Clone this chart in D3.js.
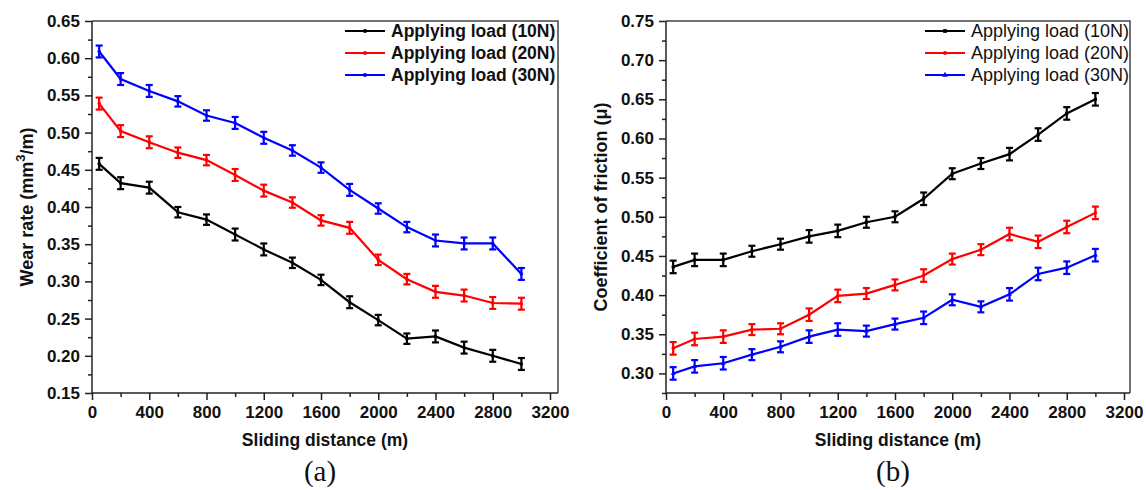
<!DOCTYPE html>
<html>
<head>
<meta charset="utf-8">
<script src="https://cdn.jsdelivr.net/npm/d3@7"></script>
<style>
  body { margin: 0; background: #fff; }
  svg { display: block; font-family: "Liberation Sans", Arial, sans-serif; }
  .tick text { font-weight: bold; font-size: 17px; fill: #111; }
</style>
</head>
<body>
<div id="chart"></div>
<script>
// Sliding distances (m)
const distance = [50, 200, 400, 600, 800, 1000, 1200, 1400, 1600, 1800, 2000, 2200, 2400, 2600, 2800, 3000];
const loads = ["Applying load (10N)", "Applying load (20N)", "Applying load (30N)"];
const colors = ["#000000", "#ff0000", "#0000ff"];

// (a) wear rate (mm3/m)
const wear10 = [0.458, 0.432, 0.426, 0.393, 0.383, 0.363, 0.343, 0.325, 0.302, 0.272, 0.248, 0.223, 0.226, 0.211, 0.200, 0.189];
const wear20 = [0.539, 0.502, 0.487, 0.473, 0.463, 0.443, 0.422, 0.406, 0.382, 0.372, 0.329, 0.303, 0.286, 0.281, 0.271, 0.270];
const wear30 = [0.609, 0.572, 0.556, 0.542, 0.523, 0.513, 0.493, 0.476, 0.453, 0.423, 0.398, 0.373, 0.355, 0.351, 0.351, 0.310];
const wearErr = [0.008, 0.008, 0.008, 0.007, 0.007, 0.008, 0.008, 0.007, 0.007, 0.008, 0.007, 0.007, 0.008, 0.008, 0.008, 0.008];

// (b) coefficient of friction
const cof10 = [0.436, 0.445, 0.445, 0.456, 0.465, 0.475, 0.482, 0.493, 0.500, 0.523, 0.555, 0.568, 0.580, 0.605, 0.632, 0.650];
const cof20 = [0.332, 0.344, 0.347, 0.356, 0.357, 0.375, 0.399, 0.402, 0.413, 0.425, 0.446, 0.458, 0.478, 0.468, 0.487, 0.505];
const cof30 = [0.300, 0.309, 0.313, 0.324, 0.334, 0.347, 0.356, 0.354, 0.363, 0.371, 0.394, 0.385, 0.401, 0.427, 0.435, 0.451];
const cofErr = [0.008, 0.008, 0.008, 0.007, 0.007, 0.008, 0.008, 0.007, 0.007, 0.008, 0.007, 0.007, 0.008, 0.008, 0.008, 0.008];

const xTicks = [0, 400, 800, 1200, 1600, 2000, 2400, 2800, 3200];
const xMinor = [200, 600, 1000, 1400, 1800, 2200, 2600, 3000];
const wearTicks = [0.15, 0.20, 0.25, 0.30, 0.35, 0.40, 0.45, 0.50, 0.55, 0.60, 0.65];
const wearMinor = [0.175, 0.225, 0.275, 0.325, 0.375, 0.425, 0.475, 0.525, 0.575, 0.625];
const cofTicks = [0.30, 0.35, 0.40, 0.45, 0.50, 0.55, 0.60, 0.65, 0.70, 0.75];
const cofMinor = [0.275, 0.325, 0.375, 0.425, 0.475, 0.525, 0.575, 0.625, 0.675, 0.725];

const width = 1146, height = 490;
const svg = d3.select("#chart").append("svg")
  .attr("width", width).attr("height", height);

function drawPanel(p) {
  const top = 21, bottom = 393;
  const x = d3.scaleLinear().domain([0, 3200]).range([p.left, p.left + 458]);
  const y = d3.scaleLinear().domain(p.yDomain).range([bottom, top]);
  const g = svg.append("g");

  // frame (top + right)
  g.append("path")
    .attr("d", `M${p.left},${top}H${p.frameRight}V${bottom}`)
    .attr("fill", "none").attr("stroke", "#444").attr("stroke-width", 1.5);

  // axes
  g.append("g").attr("transform", `translate(0,${bottom})`)
    .call(d3.axisBottom(x).tickValues(xMinor).tickSize(4).tickFormat("").tickSizeOuter(0))
    .call(a => a.select(".domain").remove())
    .selectAll("line").attr("stroke", "#222").attr("stroke-width", 1.5);
  const xa = g.append("g").attr("transform", `translate(0,${bottom})`)
    .call(d3.axisBottom(x).tickValues(xTicks).tickSize(7).tickPadding(6).tickFormat(d3.format("d")).tickSizeOuter(0));
  xa.select(".domain").attr("d", `M${p.left},0H${p.frameRight}`).attr("stroke", "#222").attr("stroke-width", 1.5);
  xa.selectAll("line").attr("stroke", "#222").attr("stroke-width", 1.5);

  g.append("g").attr("transform", `translate(${p.left},0)`)
    .call(d3.axisLeft(y).tickValues(p.yMinor).tickSize(4).tickFormat("").tickSizeOuter(0))
    .call(a => a.select(".domain").remove())
    .selectAll("line").attr("stroke", "#222").attr("stroke-width", 1.5);
  const ya = g.append("g").attr("transform", `translate(${p.left},0)`)
    .call(d3.axisLeft(y).tickValues(p.yTicks).tickSize(7).tickPadding(5).tickFormat(d3.format(".2f")).tickSizeOuter(0));
  ya.select(".domain").attr("d", `M0,${top}V${bottom}`).attr("stroke", "#222").attr("stroke-width", 1.5);
  ya.selectAll("line").attr("stroke", "#222").attr("stroke-width", 1.5);

  // axis titles
  const cx = (p.left + p.frameRight) / 2;
  g.append("text").attr("x", cx).attr("y", 446)
    .attr("text-anchor", "middle").attr("font-weight", "bold").attr("font-size", 17.5)
    .attr("fill", "#111").text("Sliding distance (m)");
  const yt = g.append("text")
    .attr("transform", `translate(${p.left - 59},${(top + bottom) / 2}) rotate(-90)`)
    .attr("text-anchor", "middle").attr("font-weight", "bold").attr("font-size", 18)
    .attr("fill", "#111");
  p.yTitle(yt);

  g.append("text").attr("x", cx - 5).attr("y", 481)
    .attr("text-anchor", "middle").attr("font-family", "Liberation Serif, Times New Roman, serif")
    .attr("font-size", 29).attr("fill", "#111").text(p.label);

  // series
  const line = d3.line().x(d => x(d[0])).y(d => y(d[1]));
  p.series.forEach((vals, i) => {
    const pts = distance.map((d, j) => [d, vals[j], p.err[j]]);
    const sg = g.append("g");
    sg.append("path").datum(pts).attr("d", line)
      .attr("fill", "none").attr("stroke", colors[i]).attr("stroke-width", 2.2);
    const eb = sg.selectAll(".eb").data(pts).join("g");
    eb.append("line")
      .attr("x1", d => x(d[0])).attr("x2", d => x(d[0]))
      .attr("y1", d => y(d[1] - d[2])).attr("y2", d => y(d[1] + d[2]));
    eb.append("line")
      .attr("x1", d => x(d[0]) - 3.5).attr("x2", d => x(d[0]) + 3.5)
      .attr("y1", d => y(d[1] + d[2])).attr("y2", d => y(d[1] + d[2]));
    eb.append("line")
      .attr("x1", d => x(d[0]) - 3.5).attr("x2", d => x(d[0]) + 3.5)
      .attr("y1", d => y(d[1] - d[2])).attr("y2", d => y(d[1] - d[2]));
    eb.selectAll("line").attr("stroke", colors[i]).attr("stroke-width", 2.2);
    sg.selectAll(".mk").data(pts).join("path")
      .attr("transform", d => `translate(${x(d[0])},${y(d[1])})`)
      .attr("d", d3.symbol().type(p.symbols[i]).size(10))
      .attr("fill", colors[i]);
  });

  // legend
  loads.forEach((name, i) => {
    const ly = 31 + i * 22;
    g.append("line").attr("x1", p.legX).attr("x2", p.legX + 40)
      .attr("y1", ly).attr("y2", ly).attr("stroke", colors[i]).attr("stroke-width", 2);
    g.append("path").attr("transform", `translate(${p.legX + 20},${ly})`)
      .attr("d", d3.symbol().type(p.symbols[i]).size(14)).attr("fill", colors[i]);
    g.append("text").attr("x", p.legX + 46).attr("y", ly).attr("dy", "0.35em")
      .attr("font-size", p.legSize).attr("font-weight", p.legWeight)
      .attr("fill", "#111").text(name);
  });
}

drawPanel({
  left: 92, frameRight: 558, yDomain: [0.15, 0.65],
  yTicks: wearTicks, yMinor: wearMinor,
  series: [wear10, wear20, wear30], err: wearErr,
  symbols: [d3.symbolCircle, d3.symbolCircle, d3.symbolCircle],
  legX: 345, legSize: 17.5, legWeight: "bold", label: "(a)",
  yTitle: t => {
    t.append("tspan").text("Wear rate (mm");
    t.append("tspan").attr("dy", -8).attr("font-size", 13).text("3");
    t.append("tspan").attr("dy", 8).text("/m)");
  }
});

drawPanel({
  left: 666, frameRight: 1130, yDomain: [0.275, 0.75],
  yTicks: cofTicks, yMinor: cofMinor,
  series: [cof10, cof20, cof30], err: cofErr,
  symbols: [d3.symbolSquare, d3.symbolCircle, d3.symbolTriangle],
  legX: 925, legSize: 18, legWeight: "normal", label: "(b)",
  yTitle: t => t.text("Coefficient of friction (\u03bc)")
});
</script>
</body>
</html>
